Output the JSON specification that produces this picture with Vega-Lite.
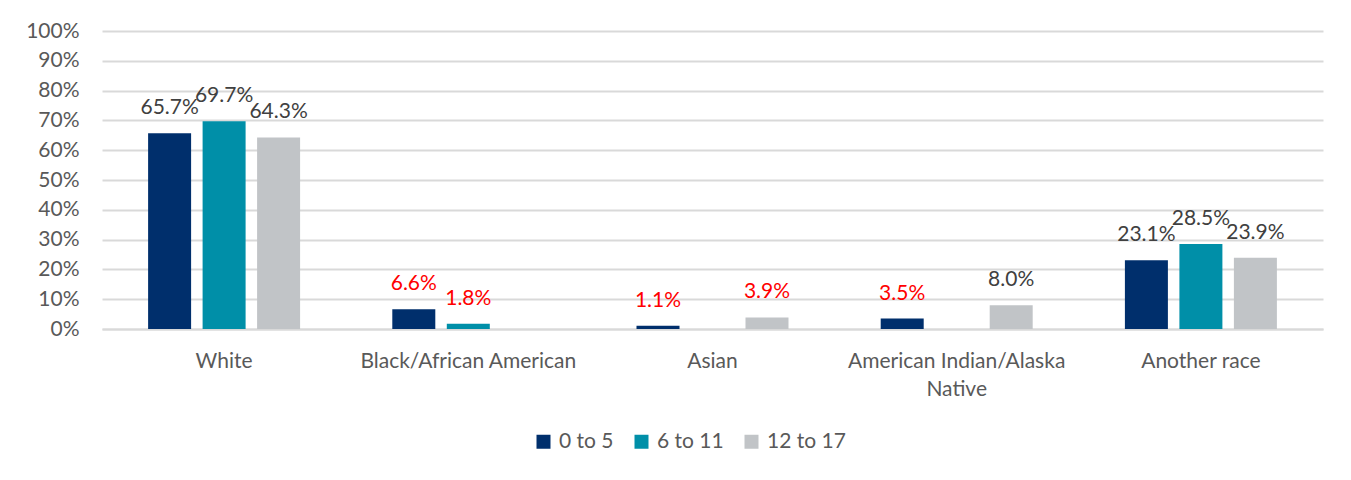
{
  "$schema": "https://vega.github.io/schema/vega-lite/v6.json",
  "autosize": {"type": "none"},
  "width": 1221,
  "height": 298,
  "padding": {"left": 102, "top": 31, "right": 28, "bottom": 151},
  "background": "white",
  "config": {
    "font": "Lato",
    "view": {"stroke": null}
  },
  "data": {
    "values": [
      {"race": "White", "age": "0 to 5", "pct": 0.657, "flag": false},
      {"race": "White", "age": "6 to 11", "pct": 0.697, "flag": false},
      {"race": "White", "age": "12 to 17", "pct": 0.643, "flag": false},
      {"race": "Black/African American", "age": "0 to 5", "pct": 0.066, "flag": true},
      {"race": "Black/African American", "age": "6 to 11", "pct": 0.018, "flag": true},
      {"race": "Asian", "age": "0 to 5", "pct": 0.011, "flag": true},
      {"race": "Asian", "age": "12 to 17", "pct": 0.039, "flag": true},
      {"race": "American Indian/Alaska Native", "age": "0 to 5", "pct": 0.035, "flag": true},
      {"race": "American Indian/Alaska Native", "age": "12 to 17", "pct": 0.08, "flag": false},
      {"race": "Another race", "age": "0 to 5", "pct": 0.231, "flag": false},
      {"race": "Another race", "age": "6 to 11", "pct": 0.285, "flag": false},
      {"race": "Another race", "age": "12 to 17", "pct": 0.239, "flag": false}
    ]
  },
  "encoding": {
    "x": {
      "field": "race",
      "type": "nominal",
      "sort": ["White", "Black/African American", "Asian", "American Indian/Alaska Native", "Another race"],
      "scale": {"paddingInner": 0.3305, "paddingOuter": 0.16525},
      "axis": {
        "title": null,
        "labelAngle": 0,
        "labelFontSize": 21,
        "labelColor": "#595959",
        "labelPadding": 21,
        "labelLineHeight": 28,
        "labelLimit": 0,
        "labelOverlap": false,
        "labelExpr": "datum.value == 'American Indian/Alaska Native' ? ['American Indian/Alaska', 'Native'] : datum.value",
        "ticks": false,
        "domain": true,
        "domainColor": "#D9D9D9",
        "domainWidth": 2
      }
    },
    "xOffset": {
      "field": "age",
      "type": "nominal",
      "sort": ["0 to 5", "6 to 11", "12 to 17"],
      "scale": {"domain": ["0 to 5", "6 to 11", "12 to 17"], "paddingInner": 0.211, "paddingOuter": 0.1055}
    },
    "y": {
      "field": "pct",
      "type": "quantitative",
      "scale": {"domain": [0, 1]},
      "axis": {
        "title": null,
        "format": "%",
        "values": [0, 0.1, 0.2, 0.3, 0.4, 0.5, 0.6, 0.7, 0.8, 0.9, 1],
        "labelOverlap": false,
        "labelFontSize": 21,
        "labelColor": "#595959",
        "labelPadding": 23,
        "ticks": false,
        "domain": false,
        "grid": true,
        "gridColor": "#D9D9D9",
        "gridWidth": 2
      }
    }
  },
  "layer": [
    {
      "mark": {"type": "bar"},
      "encoding": {
        "color": {
          "field": "age",
          "type": "nominal",
          "sort": ["0 to 5", "6 to 11", "12 to 17"],
          "scale": {"domain": ["0 to 5", "6 to 11", "12 to 17"], "range": ["#002F6C", "#008FA8", "#C1C4C7"]},
          "legend": {
            "title": null,
            "orient": "none",
            "legendX": 431,
            "legendY": 400,
            "direction": "horizontal",
            "symbolType": "square",
            "symbolSize": 196,
            "symbolStrokeWidth": 0,
            "labelFontSize": 21,
            "labelColor": "#595959",
            "columnPadding": 17,
            "labelOffset": 5
          }
        }
      }
    },
    {
      "mark": {"type": "text", "baseline": "middle", "dy": -25, "fontSize": 21},
      "encoding": {
        "text": {"field": "pct", "type": "quantitative", "format": ".1%"},
        "color": {
          "condition": {"test": "datum.flag", "value": "#FF0000"},
          "value": "#404040"
        }
      }
    }
  ]
}
